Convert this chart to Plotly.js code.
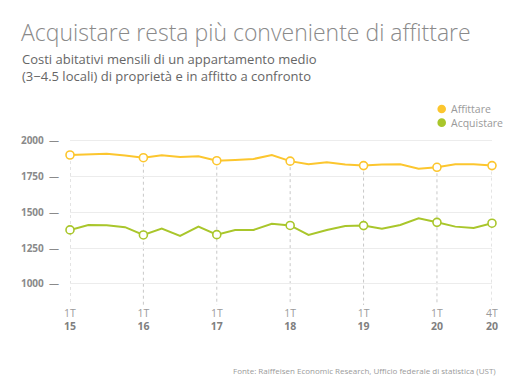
<!DOCTYPE html>
<html>
<head>
<meta charset="utf-8">
<script src="https://cdn.plot.ly/plotly-3.0.1.min.js"></script>
<style>html,body{margin:0;padding:0;background:#fff;}#chart{width:520px;height:384px;}</style>
</head>
<body>
<div id="chart"></div>
<script>
// Quarters 1T15 .. 4T20
var quarters = ["1T15","2T15","3T15","4T15","1T16","2T16","3T16","4T16",
                "1T17","2T17","3T17","4T17","1T18","2T18","3T18","4T18",
                "1T19","2T19","3T19","4T19","1T20","2T20","3T20","4T20"];
var affittare = [1900,1905,1908,1897,1881,1898,1886,1891,
                 1860,1865,1872,1900,1857,1835,1849,1833,
                 1826,1833,1835,1804,1814,1835,1835,1826];
var acquistare = [1377,1411,1410,1396,1342,1386,1335,1400,
                  1344,1377,1377,1420,1408,1342,1377,1405,
                  1407,1386,1412,1458,1430,1400,1391,1424];
var labeledQuarters = ["1T15","1T16","1T17","1T18","1T19","1T20","4T20"];
var tickQuarter = ["1T","1T","1T","1T","1T","1T","4T"];
var tickYear = ["15","16","17","18","19","20","20"];
var yTicks = [1000,1250,1500,1750,2000];
var seriesNames = ["Affittare","Acquistare"];

var YELLOW = "#fcc62e", GREEN = "#a9c62b";
var seriesColors = [YELLOW, GREEN];
var yMin = 853, yMax = 2214;
var FONT = "Open Sans, Noto Sans, sans-serif";
var PW = 422, PH = 195, ML = 70, MT = 110;

var idx = quarters.map(function(q, i){ return i; });
var labIdx = labeledQuarters.map(function(q){ return quarters.indexOf(q); });

function lineTrace(vals, color, name){
  return {x: idx, y: vals, type: "scatter", mode: "lines", name: name, showlegend: false,
          line: {color: color, width: 2}, cliponaxis: false};
}
function markerTrace(vals, color, name){
  return {x: labIdx, y: labIdx.map(function(i){ return vals[i]; }), type: "scatter", name: name,
          mode: "markers", showlegend: false, cliponaxis: false,
          marker: {size: 8, color: "#ffffff", line: {color: color, width: 1.6}}};
}

var data = [
  lineTrace(affittare, YELLOW, seriesNames[0]), lineTrace(acquistare, GREEN, seriesNames[1]),
  markerTrace(affittare, YELLOW, seriesNames[0]), markerTrace(acquistare, GREEN, seriesNames[1])
];

function px2x(px){ return (px - ML) / PW; }
function py2y(py){ return 1 - (py - MT) / PH; }

var shapes = labIdx.map(function(i){
  return {type: "line", xref: "x", yref: "y", layer: "below",
          x0: i, x1: i, y0: affittare[i], y1: yMin,
          line: {color: "#c8c8c8", width: 1, dash: "dot"}};
});

var LEG_Y0 = 109, LEG_DY = 13.65;
// legend symbols
seriesNames.forEach(function(name, k){
  shapes.push({type: "circle", xref: "paper", yref: "paper",
    xsizemode: "pixel", ysizemode: "pixel",
    xanchor: px2x(441.7), yanchor: py2y(LEG_Y0 + k * LEG_DY),
    x0: -4.3, x1: 4.3, y0: -4.3, y1: 4.3,
    fillcolor: seriesColors[k], line: {width: 0}});
});

var annotations = [
  {text: "Costi abitativi mensili di un appartamento medio<br>(3−4.5 locali) di proprietà e in affitto a confronto",
   xref: "paper", yref: "paper", x: px2x(20), xanchor: "left", y: py2y(48), yanchor: "top",
   align: "left", showarrow: false, font: {size: 13, color: "#666666", family: FONT}},
  {text: "Fonte: Raiffeisen Economic Research, Ufficio federale di statistica (UST)",
   xref: "paper", yref: "paper", x: px2x(498), xanchor: "right", y: py2y(370), yanchor: "middle",
   showarrow: false, font: {size: 8, color: "#9a9a9a", family: FONT}},
  {text: seriesNames.join("<br>"),
   xref: "paper", yref: "paper", x: px2x(449), xanchor: "left",
   y: py2y(LEG_Y0 + LEG_DY / 2), yanchor: "middle", align: "left",
   showarrow: false, font: {size: 10.5, color: "#9a9a9a", family: FONT}}
];

var layout = {
  width: 520, height: 384,
  paper_bgcolor: "#fff", plot_bgcolor: "#fff",
  margin: {l: ML, r: 520 - ML - PW, t: MT, b: 384 - MT - PH},
  font: {family: FONT, color: "#888"},
  title: {text: "Acquistare resta più conveniente di affittare",
          font: {family: FONT, size: 23, color: "#8a8a8a", weight: 300},
          x: 21/520, xanchor: "left", xref: "container", y: 1 - 33/384, yanchor: "middle", yref: "container"},
  xaxis: {range: [0, 23], showgrid: false, zeroline: false, showline: false, ticks: "",
          tickmode: "array", tickvals: labIdx,
          ticktext: labIdx.map(function(i, k){
            return "<span style='color:#9a9a9a'>" + tickQuarter[k] + "</span><br><b>" + tickYear[k] + "</b>";
          }),
          tickfont: {size: 10.5, color: "#808080", family: FONT}, fixedrange: true},
  yaxis: {range: [yMin, yMax], tickmode: "array", tickvals: yTicks,
          ticktext: yTicks.map(function(v){ return "<b>" + v + "</b>  —"; }),
          showgrid: true, gridcolor: "#ececec", gridwidth: 1, zeroline: false, showline: false,
          ticks: "", ticklabelstandoff: 10, tickfont: {size: 10, color: "#8a8a8a", family: FONT}},
  showlegend: false,
  shapes: shapes,
  annotations: annotations
};

Plotly.newPlot("chart", data, layout, {displayModeBar: false, staticPlot: true});
</script>
</body>
</html>
